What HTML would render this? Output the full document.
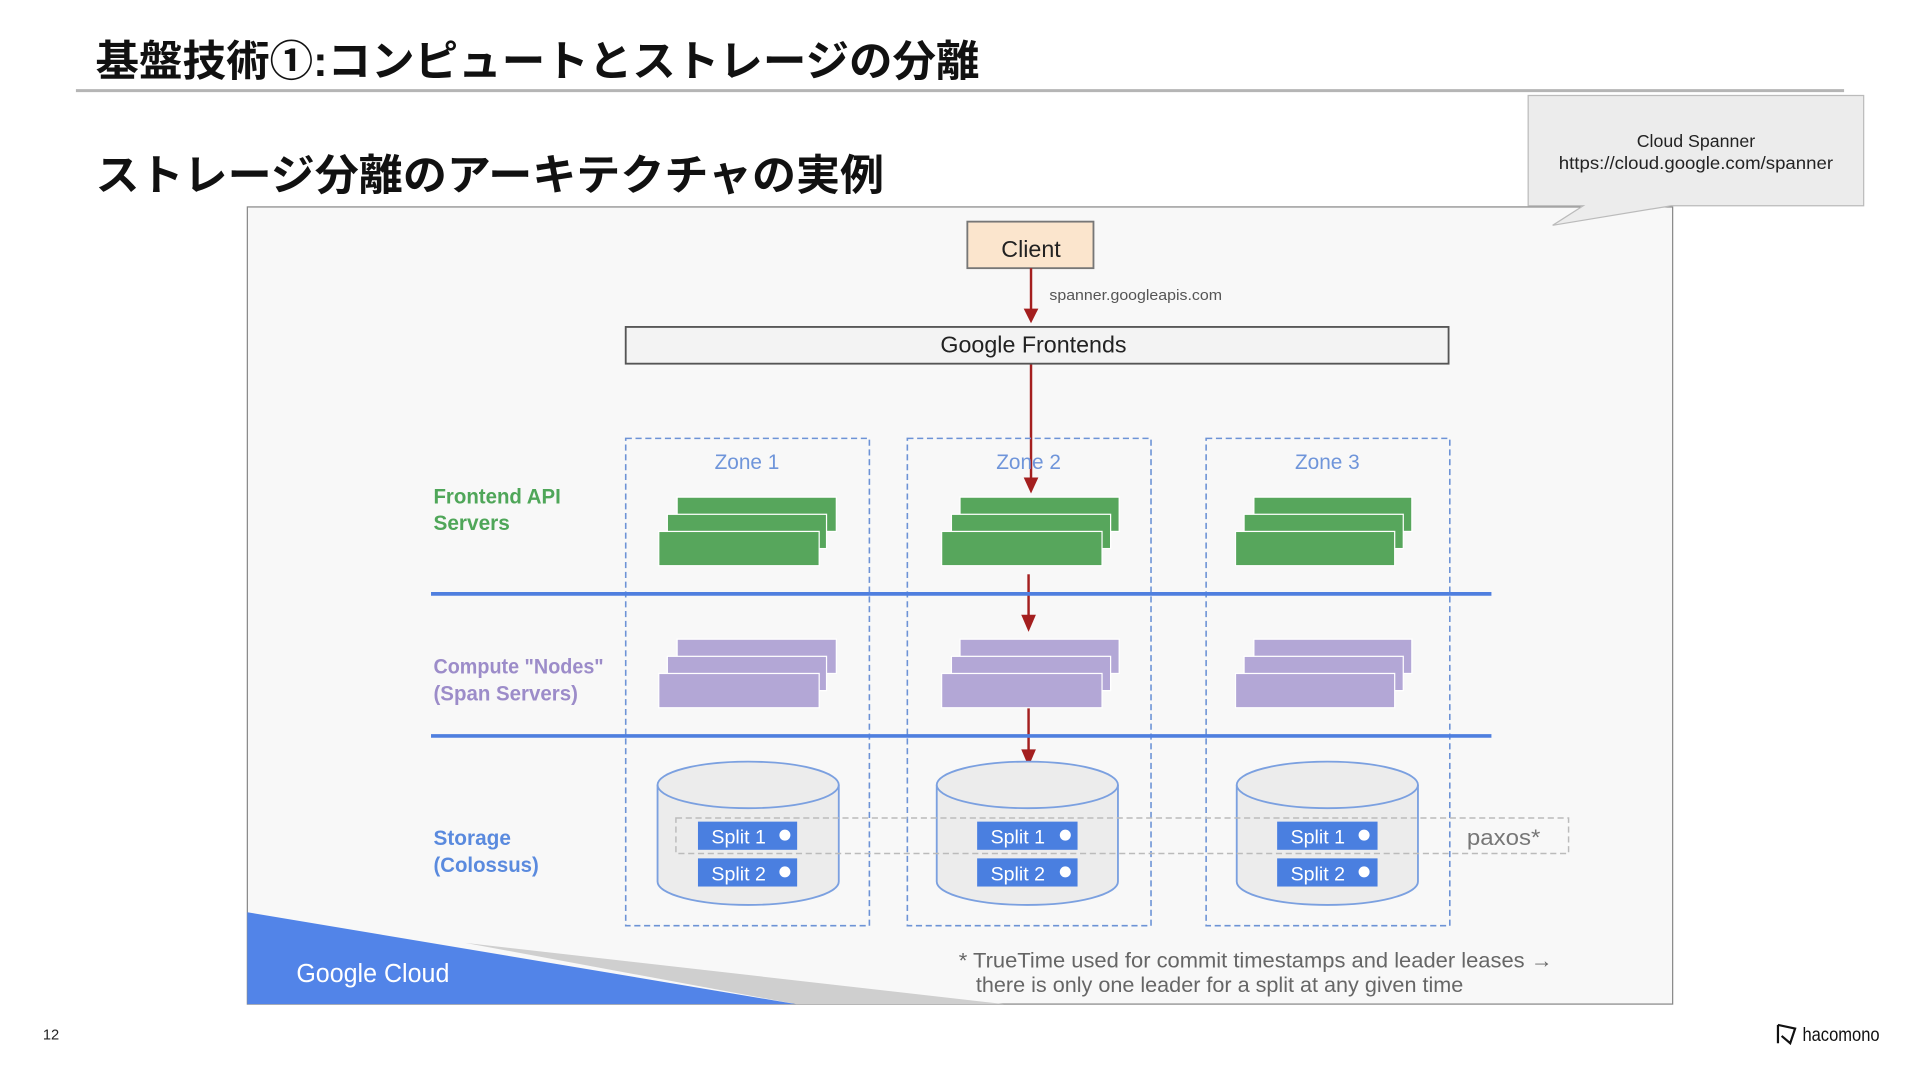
<!DOCTYPE html>
<html><head><meta charset="utf-8"><style>
html,body{margin:0;padding:0;background:#fff;width:1920px;height:1080px;overflow:hidden}
svg{display:block}
text{font-family:"Liberation Sans","Noto Sans CJK JP",sans-serif}
</style></head><body>
<svg width="1920" height="1080" viewBox="0 0 1568 882" preserveAspectRatio="none" xmlns="http://www.w3.org/2000/svg">
<rect width="1568" height="882" fill="#fff"/>
<text x="78" y="62" font-size="35" font-weight="bold" fill="#111" font-family="Noto Sans CJK JP, sans-serif" textLength="722" lengthAdjust="spacingAndGlyphs">基盤技術①:コンピュートとストレージの分離</text>
<line x1="62" y1="74" x2="1506" y2="74" stroke="#b5b5b5" stroke-width="2.5"/>
<text x="78" y="155" font-size="35" font-weight="bold" fill="#111" font-family="Noto Sans CJK JP, sans-serif" textLength="644" lengthAdjust="spacingAndGlyphs">ストレージ分離のアーキテクチャの実例</text>

<rect x="202" y="169" width="1164" height="651" fill="#f8f8f8" stroke="#888" stroke-width="1"/>

<path d="M1248,78 H1522 V168 H1365 L1268,184 L1293,168 H1248 Z" fill="#ececec" stroke="#bbb" stroke-width="1"/>
<text x="1385" y="120" font-size="14.5" text-anchor="middle" fill="#222">Cloud Spanner</text>
<text x="1385" y="138" font-size="14.5" text-anchor="middle" fill="#222" textLength="224" lengthAdjust="spacingAndGlyphs">https://cloud.google.com/spanner</text>

<polygon points="380,770 820,820 650,820" fill="#cfcfcf"/>
<polygon points="202,745 650,820 202,820" fill="#5284e8"/>
<text x="242" y="802" font-size="21" fill="#fff" textLength="125" lengthAdjust="spacingAndGlyphs">Google Cloud</text>

<rect x="790" y="181" width="103" height="38" fill="#fbe5cd" stroke="#777" stroke-width="1.5"/>
<text x="842" y="210" font-size="19" text-anchor="middle" fill="#222">Client</text>
<g stroke="#a41f1f" stroke-width="2" fill="#a41f1f">
<line x1="842" y1="219" x2="842" y2="254"/><polygon points="836,252 848,252 842,264" stroke="none"/>
<line x1="842" y1="297" x2="842" y2="392"/><polygon points="836,390 848,390 842,403" stroke="none"/>
<line x1="840" y1="469" x2="840" y2="504"/><polygon points="834,502 846,502 840,516" stroke="none"/>
<line x1="840" y1="578" x2="840" y2="614"/><polygon points="834,612 846,612 840,626" stroke="none"/>
</g>
<text x="857" y="245" font-size="12" fill="#555" textLength="141" lengthAdjust="spacingAndGlyphs">spanner.googleapis.com</text>
<rect x="511" y="267" width="672" height="30" fill="#f3f3f3" stroke="#555" stroke-width="1.5"/>
<text x="844" y="288" font-size="19" text-anchor="middle" fill="#222">Google Frontends</text>

<g fill="none" stroke="#6d93d6" stroke-width="1.3" stroke-dasharray="5,3">
<rect x="511" y="358" width="199" height="398"/>
<rect x="741" y="358" width="199" height="398"/>
<rect x="985" y="358" width="199" height="398"/>
</g>
<g font-size="17" fill="#6f95da" text-anchor="middle">
<text x="610" y="383">Zone 1</text><text x="840" y="383">Zone 2</text><text x="1084" y="383">Zone 3</text>
</g>

<g font-size="17" font-weight="bold">
<text x="354" y="411" fill="#4fa659" textLength="104" lengthAdjust="spacingAndGlyphs">Frontend API</text><text x="354" y="433" fill="#4fa659">Servers</text>
<text x="354" y="550" fill="#9c8cc9" textLength="139" lengthAdjust="spacingAndGlyphs">Compute "Nodes"</text><text x="354" y="572" fill="#9c8cc9" textLength="118" lengthAdjust="spacingAndGlyphs">(Span Servers)</text>
<text x="354" y="690" fill="#5a8ade">Storage</text><text x="354" y="712" fill="#5a8ade" textLength="86" lengthAdjust="spacingAndGlyphs">(Colossus)</text>
</g>

<g stroke="#fff" stroke-width="1">
<g fill="#57a65c">
<rect x="553" y="406" width="130" height="28"/><rect x="545" y="420" width="130" height="28"/><rect x="538" y="434" width="131" height="28"/>
<rect x="784" y="406" width="130" height="28"/><rect x="777" y="420" width="130" height="28"/><rect x="769" y="434" width="131" height="28"/>
<rect x="1024" y="406" width="129" height="28"/><rect x="1016" y="420" width="130" height="28"/><rect x="1009" y="434" width="130" height="28"/>
</g>
<g fill="#b3a7d6">
<rect x="553" y="522" width="130" height="28"/><rect x="545" y="536" width="130" height="28"/><rect x="538" y="550" width="131" height="28"/>
<rect x="784" y="522" width="130" height="28"/><rect x="777" y="536" width="130" height="28"/><rect x="769" y="550" width="131" height="28"/>
<rect x="1024" y="522" width="129" height="28"/><rect x="1016" y="536" width="130" height="28"/><rect x="1009" y="550" width="130" height="28"/>
</g>
</g>
<g stroke="#4f7fdf" stroke-width="3">
<line x1="352" y1="485" x2="1218" y2="485"/><line x1="352" y1="601" x2="1218" y2="601"/>
</g>

<g fill="#ececec" stroke="#7ba0e0" stroke-width="1.5">
<path d="M537,641 V720 A74,19 0 0 0 685,720 V641"/><ellipse cx="611" cy="641" rx="74" ry="19"/>
<path d="M765,641 V720 A74,19 0 0 0 913,720 V641"/><ellipse cx="839" cy="641" rx="74" ry="19"/>
<path d="M1010,641 V720 A74,19 0 0 0 1158,720 V641"/><ellipse cx="1084" cy="641" rx="74" ry="19"/>
</g>
<rect x="552" y="668" width="729" height="29" fill="none" stroke="#bbb" stroke-width="1.2" stroke-dasharray="5,3"/>
<text x="1198" y="690" font-size="18" fill="#777" textLength="60" lengthAdjust="spacingAndGlyphs">paxos*</text>
<g font-size="16" fill="#fff">
<rect x="570" y="671" width="81" height="23" fill="#4a7fe0"/><text x="581" y="689">Split 1</text><circle cx="641" cy="682" r="4.5"/>
<rect x="570" y="701" width="81" height="23" fill="#4a7fe0"/><text x="581" y="719">Split 2</text><circle cx="641" cy="712" r="4.5"/>
<rect x="798" y="671" width="82" height="23" fill="#4a7fe0"/><text x="809" y="689">Split 1</text><circle cx="870" cy="682" r="4.5"/>
<rect x="798" y="701" width="82" height="23" fill="#4a7fe0"/><text x="809" y="719">Split 2</text><circle cx="870" cy="712" r="4.5"/>
<rect x="1043" y="671" width="82" height="23" fill="#4a7fe0"/><text x="1054" y="689">Split 1</text><circle cx="1114" cy="682" r="4.5"/>
<rect x="1043" y="701" width="82" height="23" fill="#4a7fe0"/><text x="1054" y="719">Split 2</text><circle cx="1114" cy="712" r="4.5"/>
</g>

<g font-size="17" fill="#666">
<text x="783" y="790" textLength="485" lengthAdjust="spacingAndGlyphs">* TrueTime used for commit timestamps and leader leases →</text>
<text x="797" y="810" textLength="398" lengthAdjust="spacingAndGlyphs">there is only one leader for a split at any given time</text>
</g>

<text x="35" y="849" font-size="12" fill="#222">12</text>
<path d="M1452,837 V852 M1452,837 L1466,840 L1462,852 L1455,846" fill="none" stroke="#111" stroke-width="1.8"/>
<text x="1472" y="850" font-size="16" fill="#111" textLength="63" lengthAdjust="spacingAndGlyphs">hacomono</text>
</svg>
</body></html>
